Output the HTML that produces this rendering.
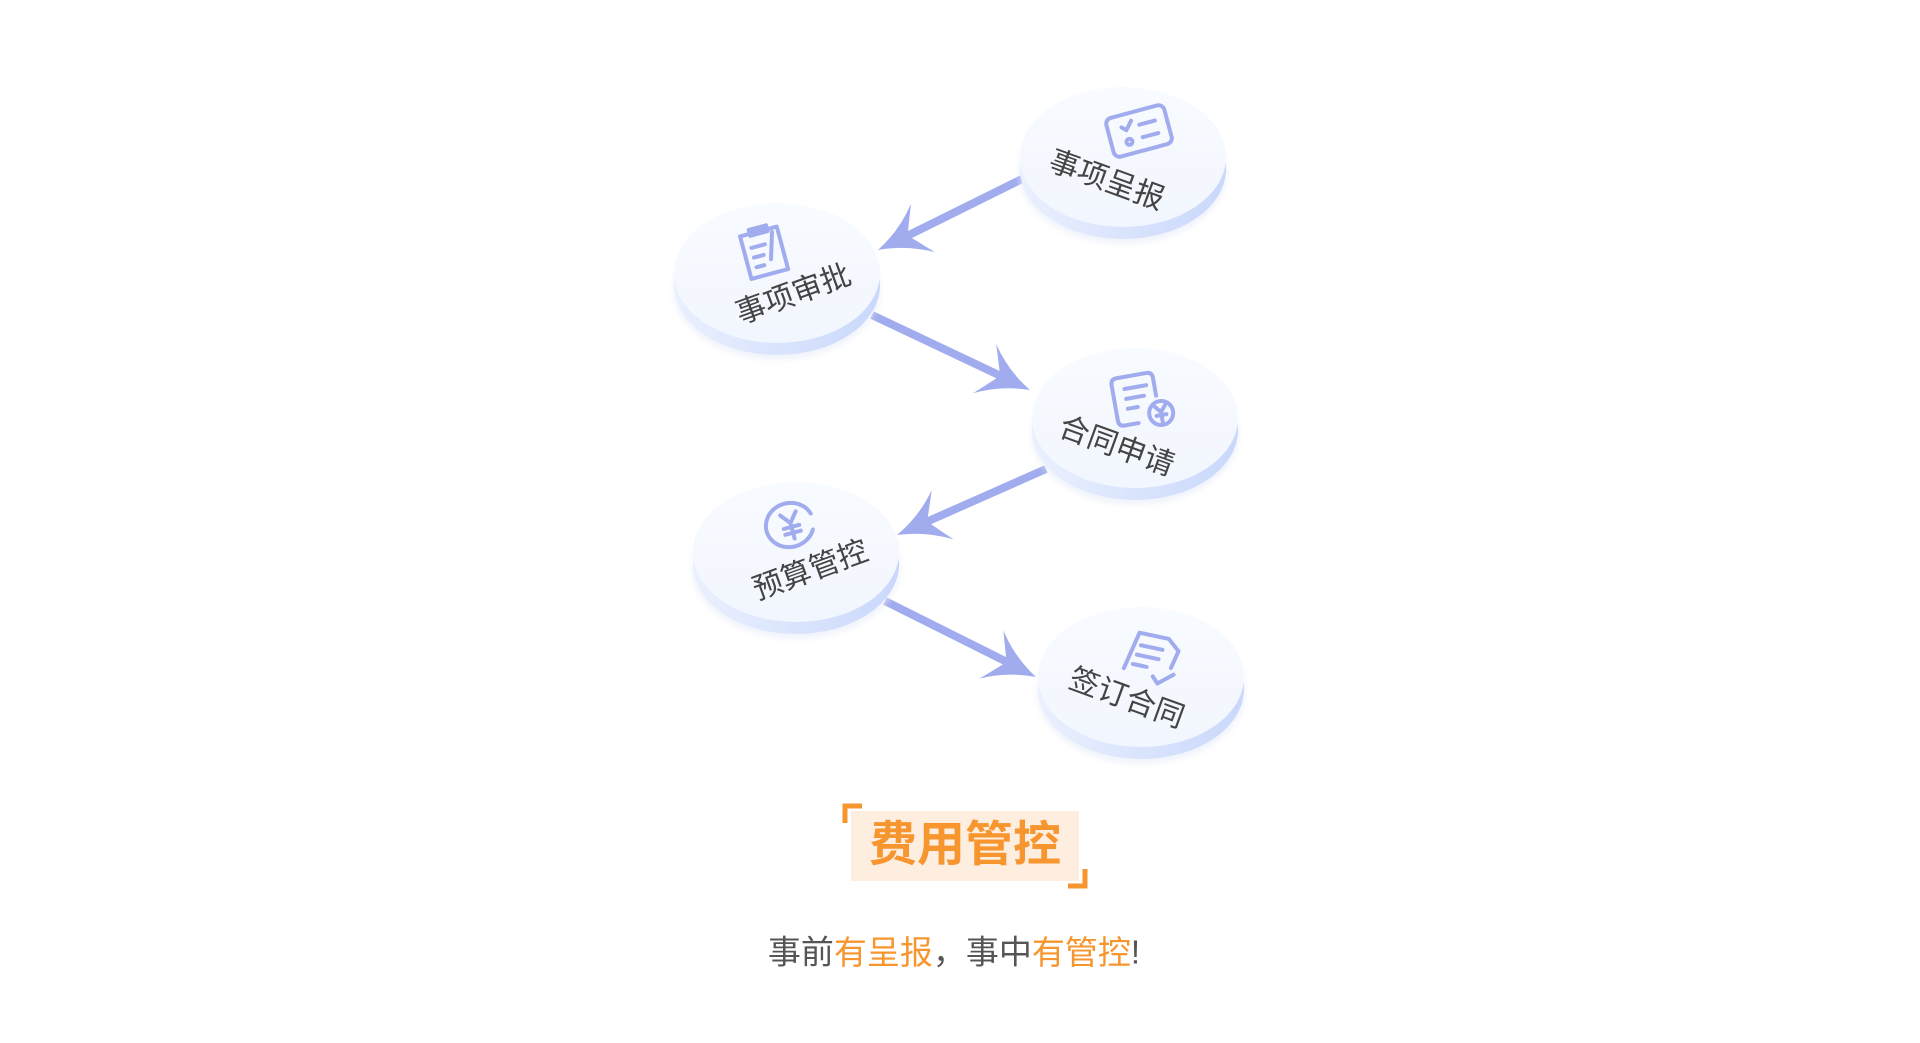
<!DOCTYPE html>
<html><head><meta charset="utf-8"><style>
html,body{margin:0;padding:0;background:#fff;}
body{width:1920px;height:1038px;overflow:hidden;font-family:"Liberation Sans","Noto Sans CJK SC",sans-serif;}
</style></head><body>
<svg width="1920" height="1038" viewBox="0 0 1920 1038" xmlns="http://www.w3.org/2000/svg">
<defs>
<linearGradient id="top" x1="0" y1="0" x2="0" y2="1">
<stop offset="0" stop-color="#f8fbff"/><stop offset="1" stop-color="#f2f6fe"/>
</linearGradient>
<linearGradient id="side" x1="0" y1="0" x2="1" y2="0">
<stop offset="0" stop-color="#eaf0fe"/><stop offset="1" stop-color="#c9d8fb"/>
</linearGradient>
<filter id="sh" x="-20%" y="-20%" width="140%" height="150%"><feGaussianBlur stdDeviation="3"/></filter>
<g id="disk">
<ellipse cx="0" cy="16" rx="104" ry="71" fill="#e6ecf8" filter="url(#sh)" opacity="0.6"/>
<ellipse cx="0" cy="12" rx="103" ry="70" fill="url(#side)"/>
<ellipse cx="0" cy="0" rx="103" ry="70" fill="url(#top)"/>
</g>
<path id="ah" d="M0,0 Q-28,-8 -50,-27 Q-38,-8 -33,0 Q-38,8 -50,27 Q-28,8 0,0Z" fill="#a1acee"/>
</defs>

<g transform="translate(-12,-4)">
<g stroke="#a1acee" stroke-width="8" fill="none">
<line x1="1034" y1="183" x2="917" y2="241"/>
<line x1="884" y1="319" x2="1015" y2="381"/>
<line x1="1058" y1="473" x2="936" y2="527"/>
<line x1="897" y1="605" x2="1021" y2="667"/>
</g>
<use href="#ah" transform="translate(890,254) rotate(153.8)"/>
<use href="#ah" transform="translate(1042,394) rotate(25.2)"/>
<use href="#ah" transform="translate(909,539) rotate(156.1)"/>
<use href="#ah" transform="translate(1048,681) rotate(26.6)"/>

<use href="#disk" x="1135" y="161"/>
<use href="#disk" x="789" y="277"/>
<use href="#disk" x="1147" y="422"/>
<use href="#disk" x="808" y="556"/>
<use href="#disk" x="1153" y="681"/>

<g stroke="#a1acee" stroke-width="4" fill="none" stroke-linecap="round" stroke-linejoin="round">
<g transform="translate(1151,135) rotate(-15)">
<rect x="-30" y="-20" width="60" height="40" rx="6"/>
<path d="M-16,-8 l4,4 l7,-8 M2,-6 h16 M2,7 h16"/><circle cx="-12" cy="8" r="3"/>
</g>
<g transform="translate(779,256) rotate(-15)">
<path d="M-22,-22 h38 v44 h-38z M-12,-26 h18 v6 h-18z M-14,-8 h14 M-14,2 h10 M-14,12 h8"/>
<path d="M10,-18 l-8,26"/>
</g>
<g transform="translate(1155,406) rotate(-10)">
<path d="M14,-4 V-22 q0,-6 -6,-6 h-30 q-6,0 -6,6 v36 q0,6 6,6 h14"/>
<path d="M-16,-16 h22 M-16,-6 h18 M-16,4 h10"/>
<circle cx="16" cy="14" r="12"/><path d="M11,7 l5,6 l5,-6 M16,13 v10 M11,16 h10"/>
</g>
<g transform="translate(803,529) rotate(-15)">
<path d="M20,10 A24,22 0 1 1 22,-6"/>
<path d="M-8,-12 l8,10 l8,-10 M0,-2 v16 M-8,2 h16 M-8,8 h16"/>
</g>
<g transform="translate(1165,660) rotate(12)">
<path d="M-26,18 l8,-38 h30 l12,10 l-4,18"/>
<path d="M-14,-8 h22 M-16,2 h22 M-18,12 h14 M4,20 l6,6 l14,-12"/>
</g>
</g>

<g font-family="Liberation Sans,Noto Sans CJK SC,sans-serif" font-size="30" fill="#444" text-anchor="middle" dominant-baseline="middle">
<text transform="translate(1118,186) rotate(20)">事项呈报</text>
<text transform="translate(806,300) rotate(-20)">事项审批</text>
<text transform="translate(1128,452) rotate(20)">合同申请</text>
<text transform="translate(823,576) rotate(-20)">预算管控</text>
<text transform="translate(1138,704) rotate(20)">签订合同</text>
</g>
</g>

<g transform="translate(-12,-9)">
<rect x="863" y="820" width="228" height="70" fill="#fdeee0"/>
<path d="M857,832 v-17 h17" stroke="#f7952e" stroke-width="5" fill="none"/>
<path d="M1097,878 v17 h-17" stroke="#f7952e" stroke-width="5" fill="none"/>
<text x="977" y="857" font-family="Liberation Sans,Noto Sans CJK SC,sans-serif" font-size="48" font-weight="bold" fill="#f7952e" text-anchor="middle" dominant-baseline="middle">费用管控</text>
</g>

<text x="954" y="955" font-family="Liberation Sans,Noto Sans CJK SC,sans-serif" font-size="33" fill="#555" text-anchor="middle" dominant-baseline="middle">事前<tspan fill="#f7952e">有呈报</tspan>，事中<tspan fill="#f7952e">有管控</tspan>!</text>
</svg>
</body></html>
